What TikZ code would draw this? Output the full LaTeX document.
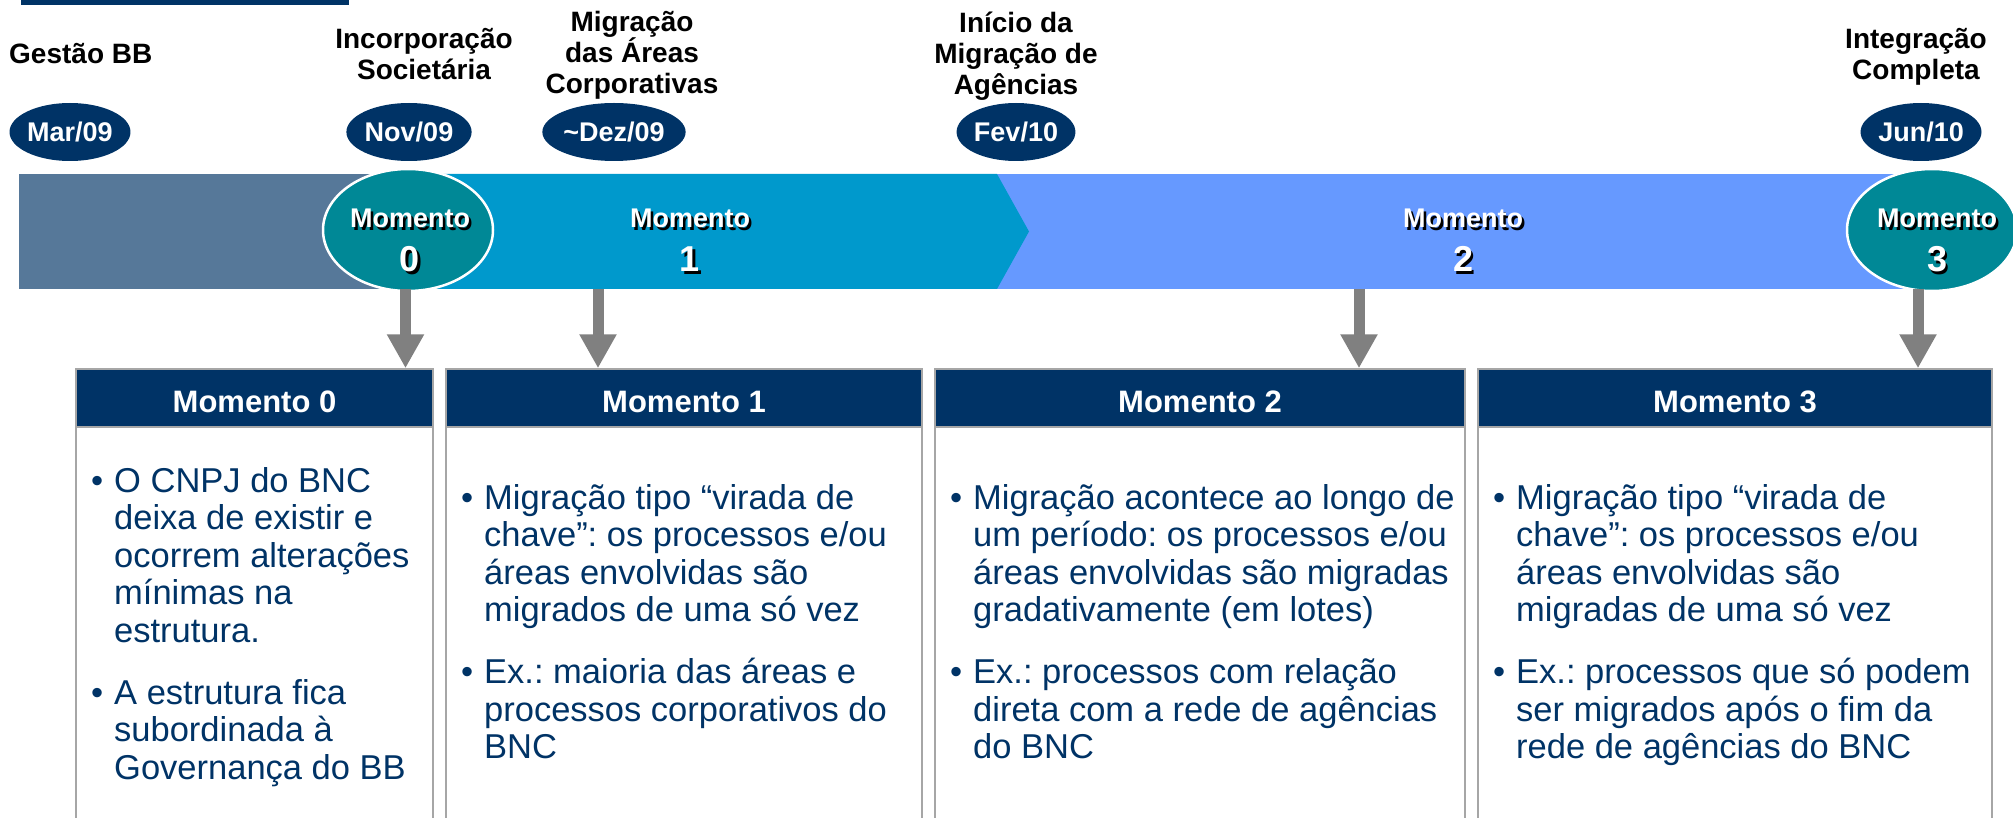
\documentclass[tikz,border=0pt]{standalone}
\usepackage{fontspec}
\setmainfont{Liberation Sans}
\usetikzlibrary{shapes.geometric, arrows.meta, positioning, calc}
\frenchspacing

\definecolor{navy}{RGB}{0,51,102}
\definecolor{barA}{RGB}{86,120,153}
\definecolor{barB}{RGB}{0,153,204}
\definecolor{barC}{RGB}{102,153,255}
\definecolor{momteal}{RGB}{0,136,150}
\definecolor{arrowgrey}{RGB}{128,128,128}
\definecolor{boxgrey}{RGB}{166,166,166}

\begin{document}
\begin{tikzpicture}[x=1pt, y=-1pt,
  datelbl/.style={ellipse, fill=navy, text=white, inner sep=0pt, minimum width=101pt, minimum height=58pt, font=\bfseries\fontsize{27}{30}\selectfont},
  eventlbl/.style={align=center, inner sep=0pt, font=\bfseries\fontsize{28}{31}\selectfont},
  momcirc/.style={ellipse, fill=momteal, draw=white, line width=2.5pt, minimum width=170pt, minimum height=122pt},
  momtxt/.style={anchor=base, inner sep=0pt, font=\bfseries\fontsize{27}{30}\selectfont},
  momnum/.style={anchor=base, inner sep=0pt, font=\bfseries\fontsize{36}{40}\selectfont},
  boxhead/.style={fill=navy, draw=boxgrey, line width=1.5pt, text=white, inner sep=0pt, minimum height=58pt, text height=28pt, text depth=0pt, font=\bfseries\fontsize{31}{34}\selectfont},
  boxbody/.style={fill=white, draw=boxgrey, line width=1.5pt},
  bodytxt/.style={align=left, anchor=base west, inner sep=0pt, text=navy, font=\fontsize{34.5}{37.5}\selectfont},
  flowarrow/.style={draw=arrowgrey, line width=11pt, -{Triangle[width=35pt, length=34pt]}}
]
\useasboundingbox (0,0) rectangle (2013,818);

% title underline
\fill[navy] (21,0) rectangle (349,5);

% timeline bar
\fill[barC] (990,174) rectangle (1935,289);
\fill[barA] (19,174) rectangle (410,289);
\fill[barB] (410,174) -- (997,174) -- (1029,231.5) -- (997,289) -- (410,289) -- cycle;
\node[momcirc] (c0) at (408,230) {};
\node[momcirc] (c3) at (1932,230) {};

% momentos on the bar
\foreach \n/\x in {0/410,1/690,2/1463,3/1937} {
  \node[momtxt, text=black] (mom\n s) at (\x+2.5,230.5) {Momento};
  \node[momtxt, text=white] (mom\n) at (\x,228) {Momento};
  \node[momnum, text=black] (num\n s) at (\x+2.5,274.5) {\n};
  \node[momnum, text=white] (num\n) at (\x,272) {\n};
}

% dates
\node[datelbl] (d0) at (70,132) {Mar/09};
\node[datelbl] (d1) at (409,132) {Nov/09};
\node[datelbl] (d2) at (614,132) {\char`~Dez/09};
\node[datelbl] (d3) at (1016,132) {Fev/10};
\node[datelbl] (d4) at (1921,132) {Jun/10};

% events (base = last line)
\node[eventlbl, anchor=base west] (e0) at (9,64) {Gestão BB};
\node[eventlbl, anchor=base] (e1) at (424,80) {Incorporação\\Societária};
\node[eventlbl, anchor=base] (e2) at (632,94) {Migração\\das Áreas\\Corporativas};
\node[eventlbl, anchor=base] (e3) at (1016,95) {Início da\\Migração de\\Agências};
\node[eventlbl, anchor=base] (e4) at (1916,80) {Integração\\Completa};

% boxes
\foreach \i/\l/\r in {0/76/433, 1/446/922, 2/935/1465, 3/1478/1992} {
  \fill[boxbody] (\l,427) rectangle (\r,840);
  \node[boxhead, minimum width={(\r-\l)*1pt}] (head\i) at ({(\l+\r)/2},398) {Momento \i};
}

% arrows
\coordinate (a0) at (405.5,289);
\coordinate (a1) at (598,289);
\coordinate (a2) at (1359,289);
\coordinate (a3) at (1918,289);
\foreach \i in {0,...,3}
  \draw[flowarrow] (a\i) -- (a\i |- head\i.north);

% box texts (base = last line)
\node[bodytxt] (t0) at (114,779) {\llap{\textbullet\hspace{11pt}}O CNPJ do BNC\\deixa de existir e\\ocorrem alterações\\mínimas na\\estrutura.\\[24.5pt]\llap{\textbullet\hspace{11pt}}A estrutura fica\\subordinada à\\Governança do BB};
\node[bodytxt] (t1) at (484,758.5) {\llap{\textbullet\hspace{11pt}}Migração tipo “virada de\\chave”: os processos e/ou\\áreas envolvidas são\\migrados de uma só vez\\[24.5pt]\llap{\textbullet\hspace{11pt}}Ex.: maioria das áreas e\\processos corporativos do\\BNC};
\node[bodytxt] (t2) at (973,758.5) {\llap{\textbullet\hspace{11pt}}Migração acontece ao longo de\\um período: os processos e/ou\\áreas envolvidas são migradas\\gradativamente (em lotes)\\[24.5pt]\llap{\textbullet\hspace{11pt}}Ex.: processos com relação\\direta com a rede de agências\\do BNC};
\node[bodytxt] (t3) at (1516,758.5) {\llap{\textbullet\hspace{11pt}}Migração tipo “virada de\\chave”: os processos e/ou\\áreas envolvidas são\\migradas de uma só vez\\[24.5pt]\llap{\textbullet\hspace{11pt}}Ex.: processos que só podem\\ser migrados após o fim da\\rede de agências do BNC};
\end{tikzpicture}
\end{document}
